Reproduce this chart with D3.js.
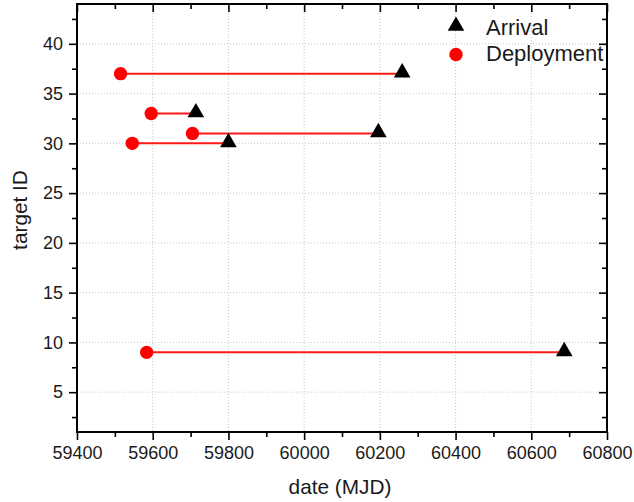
<!DOCTYPE html>
<html>
<head>
<meta charset="utf-8">
<script src="https://cdn.jsdelivr.net/npm/d3@7"></script>
<style>
  html, body { margin: 0; padding: 0; background: #fff; }
  svg { display: block; }
  text { font-family: "Liberation Sans", Arial, sans-serif; fill: #1a1a1a; }
</style>
</head>
<body>
<div id="chart"></div>
<script>
// ---- data ----
const targetIds   = [37, 33, 31, 30, 9];
const deployment  = [59515, 59596, 59705, 59546, 59584];
const arrival     = [60259, 59714, 60196, 59800, 60687];
const xTicks      = [59400, 59600, 59800, 60000, 60200, 60400, 60600, 60800];
const yTicks      = [5, 10, 15, 20, 25, 30, 35, 40];
const legendLabels = ["Arrival", "Deployment"];

const W = 634, H = 502;
const m = { left: 77, right: 27, top: 4, bottom: 70 };
const iw = W - m.left - m.right;   // 530
const ih = H - m.top - m.bottom;   // 428

const svg = d3.select("#chart").append("svg").attr("width", W).attr("height", H);
const g = svg.append("g").attr("transform", `translate(${m.left},${m.top})`);

const x = d3.scaleLinear().domain([59400, 60800]).range([0, iw]);
const y = d3.scaleLinear().domain([1, 44]).range([ih, 0]);

// grid
const grid = g.append("g");
grid.selectAll(".gx").data(xTicks.slice(1, -1)).enter().append("line")
  .attr("x1", d => x(d)).attr("x2", d => x(d)).attr("y1", 0).attr("y2", ih)
  .attr("stroke", "#c8c8c8").attr("stroke-width", 1).attr("stroke-dasharray", "1,2");
grid.selectAll(".gy").data(yTicks).enter().append("line")
  .attr("y1", d => y(d)).attr("y2", d => y(d)).attr("x1", 0).attr("x2", iw)
  .attr("stroke", "#c8c8c8").attr("stroke-width", 1).attr("stroke-dasharray", "1,2");

// minor tick values
const xMinor = d3.range(59500, 60800, 200);
const yMinor = d3.range(2.5, 44, 5);

function styleAxis(sel) {
  sel.select(".domain").remove();
  sel.selectAll(".tick line").attr("stroke", "#000").attr("stroke-width", 1.6);
}

// bottom axis
const xb = g.append("g").attr("transform", `translate(0,${ih})`)
  .call(d3.axisBottom(x).tickValues(xTicks).tickFormat(d3.format("d")).tickSize(8).tickPadding(6));
styleAxis(xb);
xb.selectAll(".tick text").attr("font-size", "18px").attr("dy", "0.71em").style("fill", "#1a1a1a");
g.append("g").attr("transform", `translate(0,${ih})`)
  .call(d3.axisBottom(x).tickValues(xMinor).tickFormat("").tickSize(5)).call(styleAxis);

// top axis (inward ticks)
g.append("g").call(d3.axisBottom(x).tickValues(xTicks).tickFormat("").tickSize(8)).call(styleAxis);
g.append("g").call(d3.axisBottom(x).tickValues(xMinor).tickFormat("").tickSize(5)).call(styleAxis);

// left axis
const yl = g.append("g")
  .call(d3.axisLeft(y).tickValues(yTicks).tickFormat(d3.format("d")).tickSize(8).tickPadding(6));
styleAxis(yl);
yl.selectAll(".tick text").attr("font-size", "18px").style("fill", "#1a1a1a");
g.append("g").call(d3.axisLeft(y).tickValues(yMinor).tickFormat("").tickSize(5)).call(styleAxis);

// right axis (inward ticks)
g.append("g").attr("transform", `translate(${iw},0)`)
  .call(d3.axisLeft(y).tickValues(yTicks).tickFormat("").tickSize(8)).call(styleAxis);
g.append("g").attr("transform", `translate(${iw},0)`)
  .call(d3.axisLeft(y).tickValues(yMinor).tickFormat("").tickSize(5)).call(styleAxis);

// frame
g.append("rect").attr("x", 0).attr("y", 0).attr("width", iw).attr("height", ih)
  .attr("fill", "none").attr("stroke", "#000").attr("stroke-width", 2);

// data
const rows = targetIds.map((t, i) => ({ id: t, dep: deployment[i], arr: arrival[i] }));
g.selectAll(".seg").data(rows).enter().append("line")
  .attr("x1", d => x(d.dep)).attr("x2", d => x(d.arr))
  .attr("y1", d => y(d.id)).attr("y2", d => y(d.id))
  .attr("stroke", "#ff1a1a").attr("stroke-width", 2);

const tri = d3.symbol().type(d3.symbolTriangle).size(120);
g.selectAll(".arr").data(rows).enter().append("path")
  .attr("d", tri)
  .attr("transform", d => `translate(${x(d.arr)},${y(d.id) - 1})`)
  .attr("fill", "#000");

g.selectAll(".dep").data(rows).enter().append("circle")
  .attr("cx", d => x(d.dep)).attr("cy", d => y(d.id)).attr("r", 6.7)
  .attr("fill", "#ff0000");

// legend
const lg = svg.append("g");
lg.append("path").attr("d", tri).attr("transform", "translate(456,26)").attr("fill", "#000");
lg.append("circle").attr("cx", 456).attr("cy", 54.5).attr("r", 6.7).attr("fill", "#ff0000");
lg.append("text").attr("x", 486).attr("y", 35).attr("font-size", "22px").text(legendLabels[0]);
lg.append("text").attr("x", 486).attr("y", 61).attr("font-size", "22px").text(legendLabels[1]);

// axis titles
svg.append("text").attr("x", m.left + iw / 2 - 2).attr("y", 494).attr("text-anchor", "middle")
  .attr("font-size", "20.8px").text("date (MJD)");
svg.append("text").attr("transform", "translate(27,210) rotate(-90)").attr("text-anchor", "middle")
  .attr("font-size", "20.8px").text("target ID");
</script>
</body>
</html>
